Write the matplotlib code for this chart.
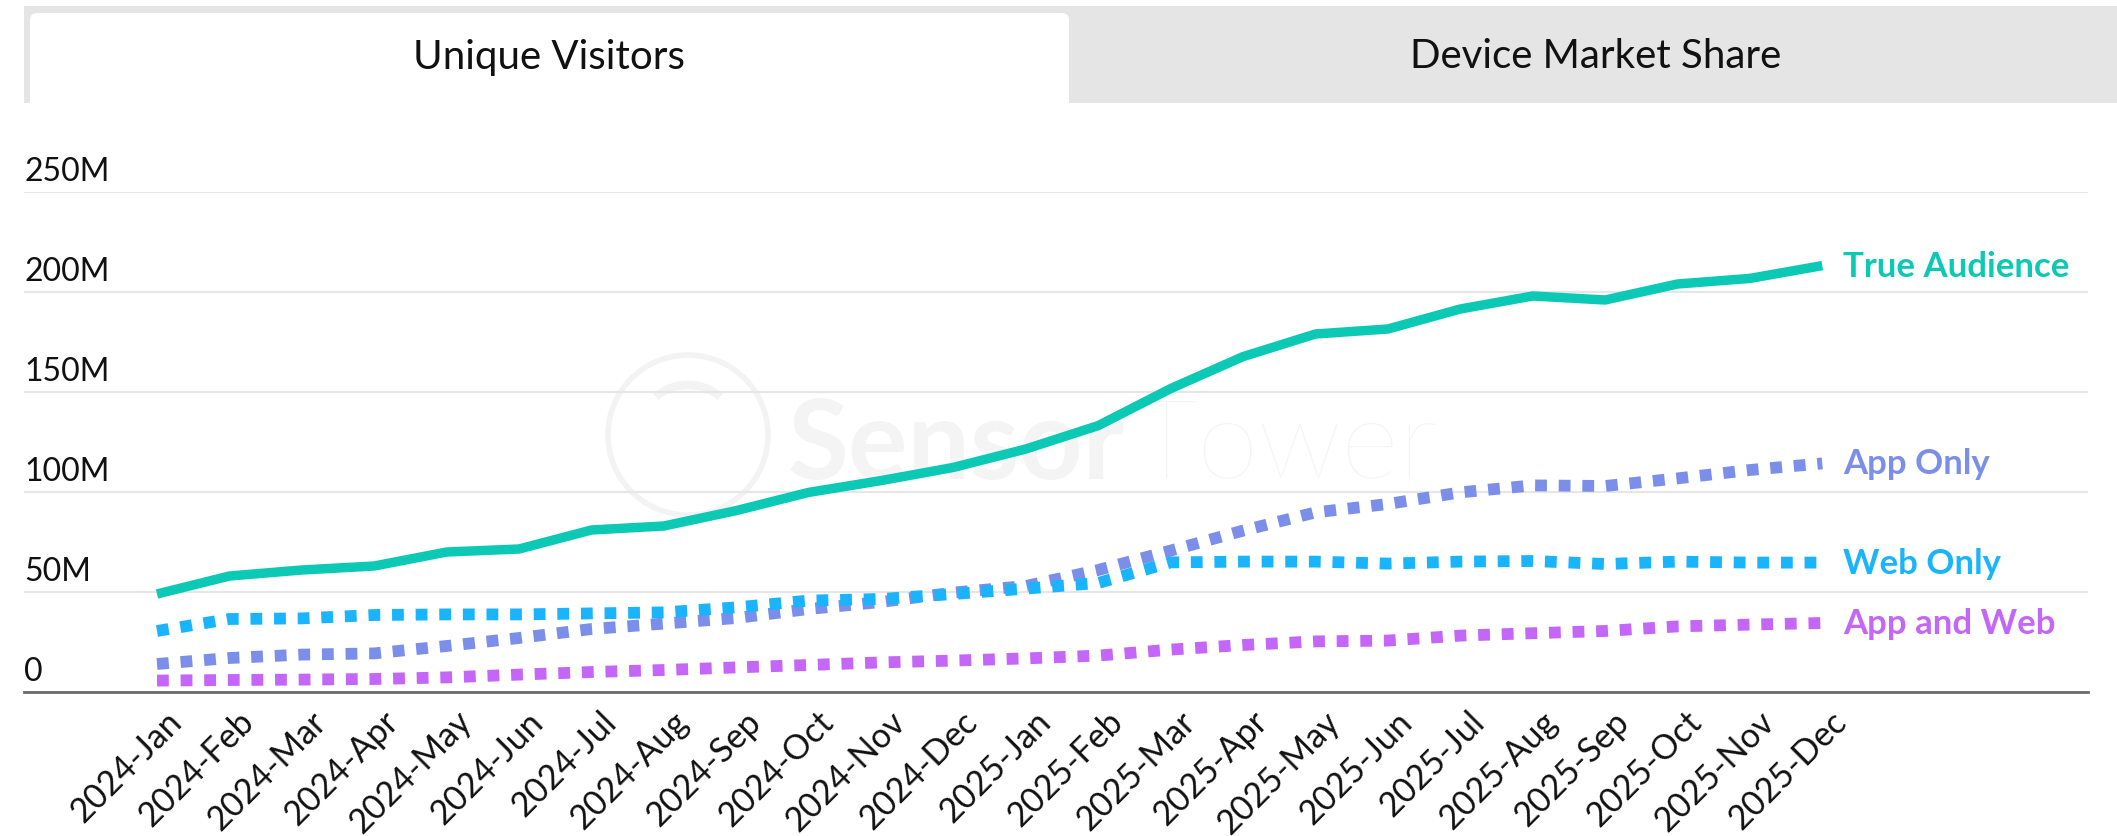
import numpy as np
import matplotlib
matplotlib.use("Agg")
import matplotlib.pyplot as plt
import matplotlib.transforms as mtransforms
from matplotlib.patches import Rectangle, FancyBboxPatch, Circle, Arc

plt.rcParams['font.family'] = ['Lato', 'DejaVu Sans']

# data (millions of unique visitors)
years = ["2024", "2025"]
month_names = ["Jan", "Feb", "Mar", "Apr", "May", "Jun",
               "Jul", "Aug", "Sep", "Oct", "Nov", "Dec"]
months = [y + "-" + m for y in years for m in month_names]

true_audience = [49, 58, 61, 63, 70, 71.5, 81, 83, 90.7, 99.8, 105.7, 112.3,
                 121.5, 133.2, 151.7, 167.7, 179, 181.5, 191.5, 198, 196, 204, 206.8, 213.2]
app_only = [14, 17, 18.7, 19.3, 23, 27, 31.5, 34.2, 37, 41.5, 45, 49.7,
            53, 61, 70.7, 80.7, 89.8, 94, 99.8, 103.3, 103, 106.8, 111, 114.3]
web_only = [30.5, 36.5, 36.8, 38.5, 38.8, 38.8, 39.3, 39.8, 42.3, 45.7, 46.5, 49,
            51.7, 54.5, 64.8, 65.2, 65.2, 64.2, 65.2, 65.5, 64, 65.2, 64.7, 64.7]
app_and_web = [5.7, 6, 6.2, 6.5, 7.3, 8.7, 10, 11, 12.3, 13.5, 14.8, 15.7,
               16.8, 18.2, 21.2, 23.5, 25.3, 25.7, 28.2, 29.4, 30.5, 32.8, 33.7, 34.5]

y_ticks = [0, 50, 100, 150, 200, 250]
y_tick_labels = ["0", "50M", "100M", "150M", "200M", "250M"]

tabs = ["Unique Visitors", "Device Market Share"]

# colours
C_TRUE = "#0bc9b4"
C_APP = "#7b8fea"
C_WEB = "#1ab4fd"
C_BOTH = "#c466f7"

W, H, DPI = 2117, 837, 100
fig = plt.figure(figsize=(W / DPI, H / DPI), dpi=DPI)
inch = fig.dpi_scale_trans

###############################################################################
# tab strip on top
###############################################################################
fig.add_artist(Rectangle((24 / DPI, (H - 104) / DPI), (W - 24) / DPI, 97 / DPI,
                         transform=inch, facecolor="#e5e5e5", edgecolor="none"))
fig.add_artist(FancyBboxPatch((30 / DPI, (H - 125) / DPI), 1039 / DPI, 111 / DPI,
                              boxstyle="round,pad=0,rounding_size=0.07",
                              transform=inch, facecolor="white", edgecolor="none"))
fig.text(549 / W, 1 - 57 / H, tabs[0], ha="center", va="center",
         fontsize=29, color="#111111")
fig.text(1596 / W, 1 - 57 / H, tabs[1], ha="center", va="center",
         fontsize=29, color="#111111")

###############################################################################
# main chart
###############################################################################
ax = fig.add_axes([24 / W, 144 / H, (2088 - 24) / W, 500 / H])
ax.set_ylim(0, 250)
ax.set_xlim(-1.837, 26.67)
for s in ["top", "left", "right"]:
    ax.spines[s].set_visible(False)
ax.spines["bottom"].set_color("#6b6b6b")
ax.spines["bottom"].set_linewidth(2.0)
ax.spines["bottom"].set_zorder(5)

ax.set_yticks(y_ticks)
ax.set_yticklabels([])
ax.tick_params(axis="y", length=0)
ax.yaxis.grid(True, color="#e6e6e6", linewidth=1.6)
ax.set_axisbelow(True)

# y labels sit above their grid line, left aligned
ylab_trans = ax.get_yaxis_transform()
for v, lab in zip(y_ticks, y_tick_labels):
    ax.annotate(lab, xy=(0, v), xycoords=ylab_trans, xytext=(0, 4),
                textcoords="offset points", ha="left", va="bottom",
                fontsize=23, color="#111111")

x = np.arange(len(months))
ax.set_xticks(x)
ax.set_xticklabels(months, rotation=45, ha="right", va="top",
                   rotation_mode="anchor", fontsize=24.5, color="#111111")
ax.tick_params(axis="x", length=0, pad=9)
shift = mtransforms.ScaledTranslation(8 / DPI, 0, inch)
for lab in ax.get_xticklabels():
    lab.set_transform(lab.get_transform() + shift)

# faint watermark
ax.add_patch(Circle((688 / DPI, (H - 436) / DPI), 80 / DPI, transform=inch,
                    fill=False, edgecolor="#f3f3f3", linewidth=4, zorder=0.5))
ax.add_patch(Arc((688 / DPI, (H - 436) / DPI), 100 / DPI, 100 / DPI, theta1=-130,
                 theta2=-50, angle=180, transform=inch, edgecolor="#f3f3f3",
                 linewidth=6, zorder=0.5))
ax.text(787 / DPI, (H - 479) / DPI, "Sensor", transform=inch, fontsize=80,
        fontweight="bold", color="#f4f4f4", ha="left", va="baseline", zorder=0.5)
ax.text(1134 / DPI, (H - 479) / DPI, "Tower", transform=inch, fontsize=80,
        fontweight="light", color="#f4f4f4", ha="left", va="baseline", zorder=0.5)

# series
ax.plot(x, true_audience, color=C_TRUE, lw=6.8, solid_capstyle="butt",
        solid_joinstyle="round", zorder=4)
ax.plot(x, app_only, color=C_APP, lw=8.5, ls=(0, (1, 1)),
        dash_capstyle="butt", zorder=3)
ax.plot(x, web_only, color=C_WEB, lw=8.5, ls=(0, (1, 1)),
        dash_capstyle="butt", zorder=3.2)
ax.plot(x, app_and_web, color=C_BOTH, lw=8.5, ls=(0, (1, 1)),
        dash_capstyle="butt", zorder=3.1)

# end labels
series = [("True Audience", true_audience, C_TRUE),
          ("App Only", app_only, C_APP),
          ("Web Only", web_only, C_WEB),
          ("App and Web", app_and_web, C_BOTH)]
for name, vals, col in series:
    ax.annotate(name, xy=(x[-1], vals[-1]), xytext=(15, 0),
                textcoords="offset points", ha="left", va="center",
                fontsize=25, fontweight="bold", color=col,
                annotation_clip=False)

fig.savefig("out.png", dpi=DPI)
